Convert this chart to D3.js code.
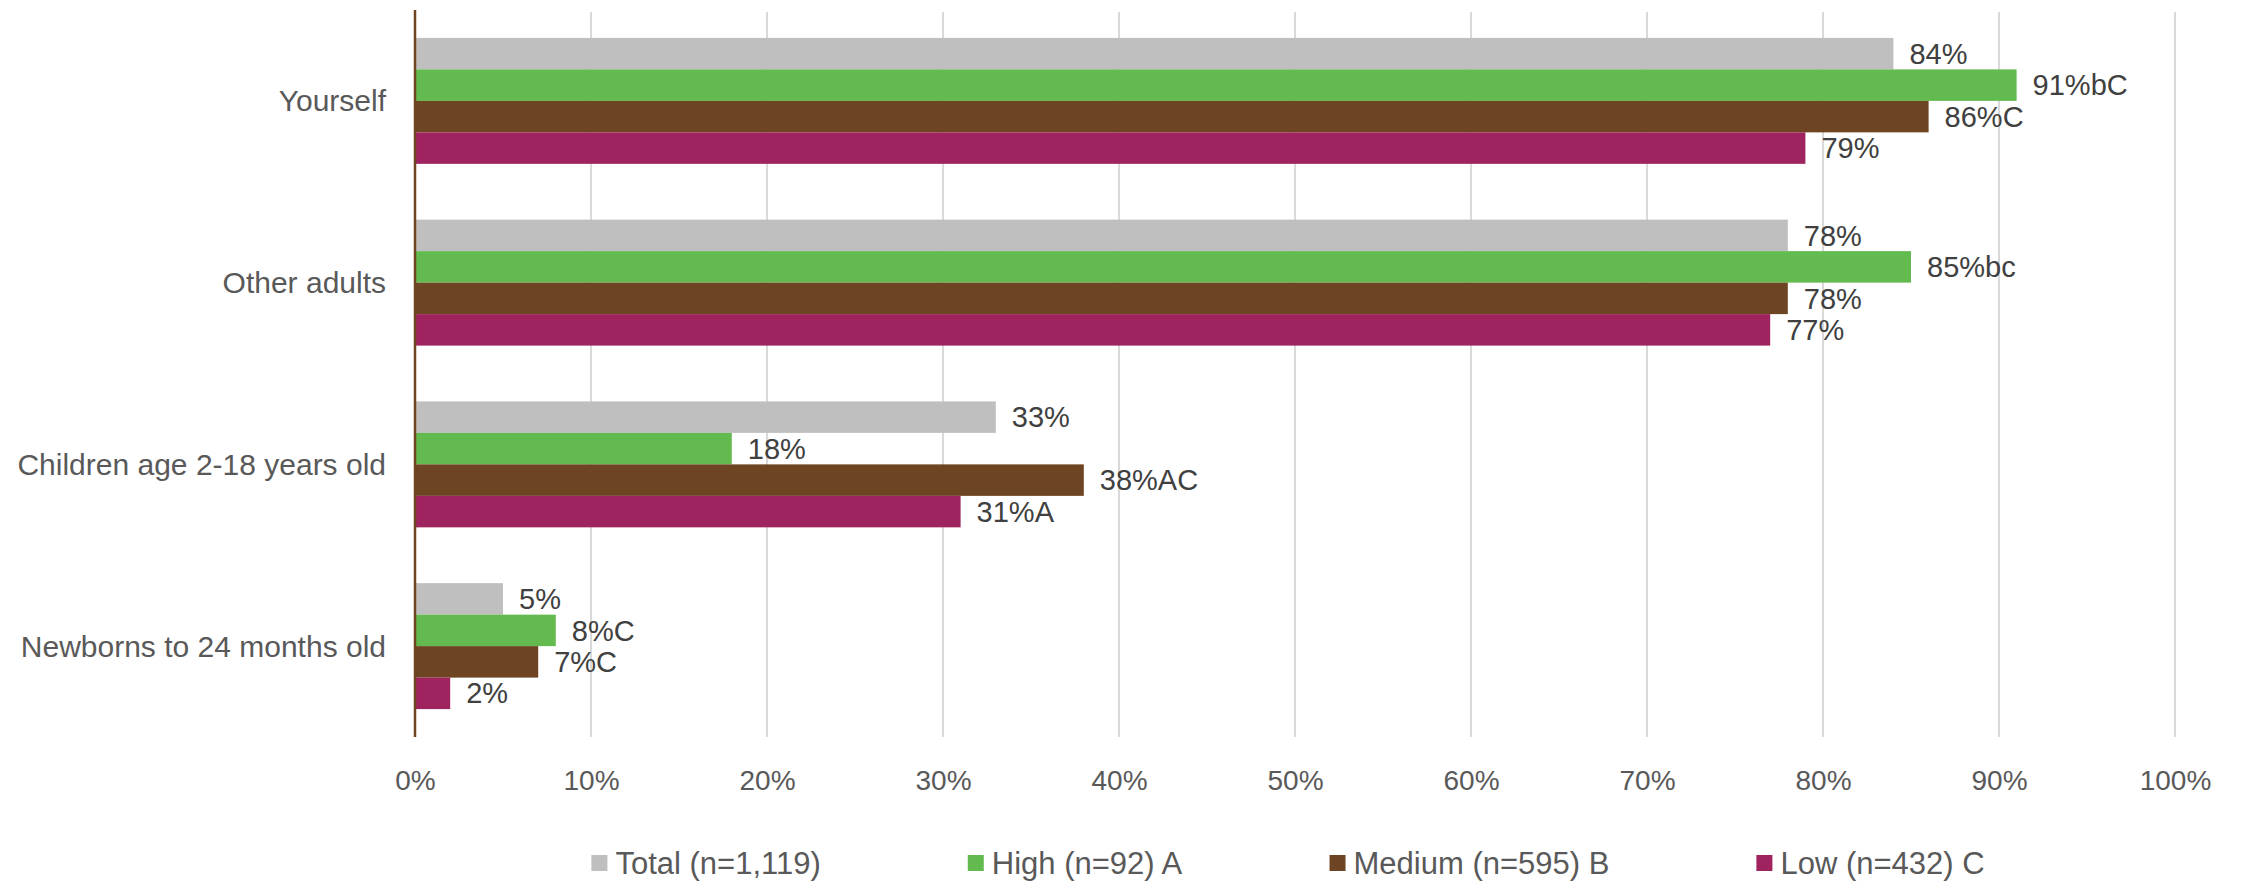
<!DOCTYPE html>
<html>
<head>
<meta charset="utf-8">
<script src="https://cdn.jsdelivr.net/npm/d3@7"></script>
<style>
  html, body { margin: 0; padding: 0; background: #ffffff; }
  svg { display: block; }
  text { font-family: "Liberation Sans", Arial, sans-serif; }
</style>
</head>
<body>
<svg id="chart" width="2244" height="883"></svg>
<script>
// Who the respondent gets vaccinated / protected: share by group
const categories = ["Yourself", "Other adults", "Children age 2-18 years old", "Newborns to 24 months old"];
const seriesNames = ["Total (n=1,119)", "High (n=92) A", "Medium (n=595) B", "Low (n=432) C"];
const seriesColors = ["#bfbfbf", "#63bb4f", "#6d4522", "#9e235e"];

const totalValues  = [84, 78, 33, 5];
const highValues   = [91, 85, 18, 8];
const mediumValues = [86, 78, 38, 7];
const lowValues    = [79, 77, 31, 2];

// Significance letters appended after each percentage
const totalSig  = ["", "", "", ""];
const highSig   = ["bC", "bc", "", "C"];
const mediumSig = ["C", "", "AC", "C"];
const lowSig    = ["", "", "A", ""];

const xTicks = [0, 10, 20, 30, 40, 50, 60, 70, 80, 90, 100];

const seriesValues = [totalValues, highValues, mediumValues, lowValues];
const seriesSig = [totalSig, highSig, mediumSig, lowSig];

const svg = d3.select("#chart");

const plot = { left: 415, right: 2175, top: 10, bottom: 737 };

const x = d3.scaleLinear().domain([0, 100]).range([plot.left, plot.right]);
const y0 = d3.scaleBand().domain(categories).range([plot.top, plot.bottom])
  .paddingInner(0.307).paddingOuter(0.1535);
const y1 = d3.scaleBand().domain(d3.range(seriesNames.length)).range([0, y0.bandwidth()]);

// vertical gridlines
svg.append("g").selectAll("line")
  .data(xTicks.filter(t => t > 0))
  .join("line")
  .attr("x1", d => x(d)).attr("x2", d => x(d))
  .attr("y1", plot.top + 2).attr("y2", plot.bottom)
  .attr("stroke", "#d9d9d9").attr("stroke-width", 2);

// bars
const groups = svg.append("g").selectAll("g")
  .data(categories)
  .join("g")
  .attr("transform", d => `translate(0,${y0(d)})`);

const rowData = (c, ci) => seriesValues.map((vals, si) => ({ si, v: vals[ci], sig: seriesSig[si][ci] }));

groups.selectAll("rect")
  .data(rowData)
  .join("rect")
  .attr("x", x(0))
  .attr("y", d => y1(d.si))
  .attr("width", d => x(d.v) - x(0))
  .attr("height", y1.bandwidth())
  .attr("fill", d => seriesColors[d.si]);

groups.selectAll("text")
  .data(rowData)
  .join("text")
  .attr("x", d => x(d.v) + 16)
  .attr("y", d => y1(d.si) + y1.bandwidth() / 2)
  .attr("dy", "0.35em")
  .attr("font-size", 29)
  .attr("fill", "#404040")
  .text(d => d.v + "%" + d.sig);

// category labels
svg.append("g").selectAll("text")
  .data(categories)
  .join("text")
  .attr("x", plot.left - 29)
  .attr("y", d => y0(d) + y0.bandwidth() / 2)
  .attr("dy", "0.35em")
  .attr("text-anchor", "end")
  .attr("font-size", 30)
  .attr("fill", "#595959")
  .text(d => d);

// x axis tick labels
const xAxis = d3.axisBottom(x).tickValues(xTicks).tickSize(0).tickFormat(d => d + "%");
const gx = svg.append("g")
  .attr("transform", `translate(0,${plot.bottom})`)
  .call(xAxis);
gx.select(".domain").remove();
gx.selectAll("text")
  .attr("y", 43)
  .attr("dy", "0.35em")
  .attr("font-size", 28)
  .attr("font-family", "Liberation Sans, Arial, sans-serif")
  .attr("fill", "#595959");

// category axis line
svg.append("line")
  .attr("x1", plot.left).attr("x2", plot.left)
  .attr("y1", plot.top).attr("y2", plot.bottom)
  .attr("stroke", "#6d4522").attr("stroke-width", 2.5);

// legend
const legend = svg.append("g");
const items = legend.selectAll("g")
  .data(seriesNames)
  .join("g");
items.append("rect")
  .attr("width", 16).attr("height", 16)
  .attr("y", -8)
  .attr("fill", (d, i) => seriesColors[i]);
items.append("text")
  .attr("x", 24)
  .attr("dy", "0.35em")
  .attr("font-size", 31)
  .attr("fill", "#595959")
  .text(d => d);

let cursor = 0;
const positions = [];
items.each(function () {
  const w = this.getBBox().width;
  positions.push(cursor);
  cursor += w + 147;
});
const totalW = cursor - 147;
const legendStart = 1288 - totalW / 2;
items.attr("transform", (d, i) => `translate(${legendStart + positions[i]},863)`);
</script>
</body>
</html>
